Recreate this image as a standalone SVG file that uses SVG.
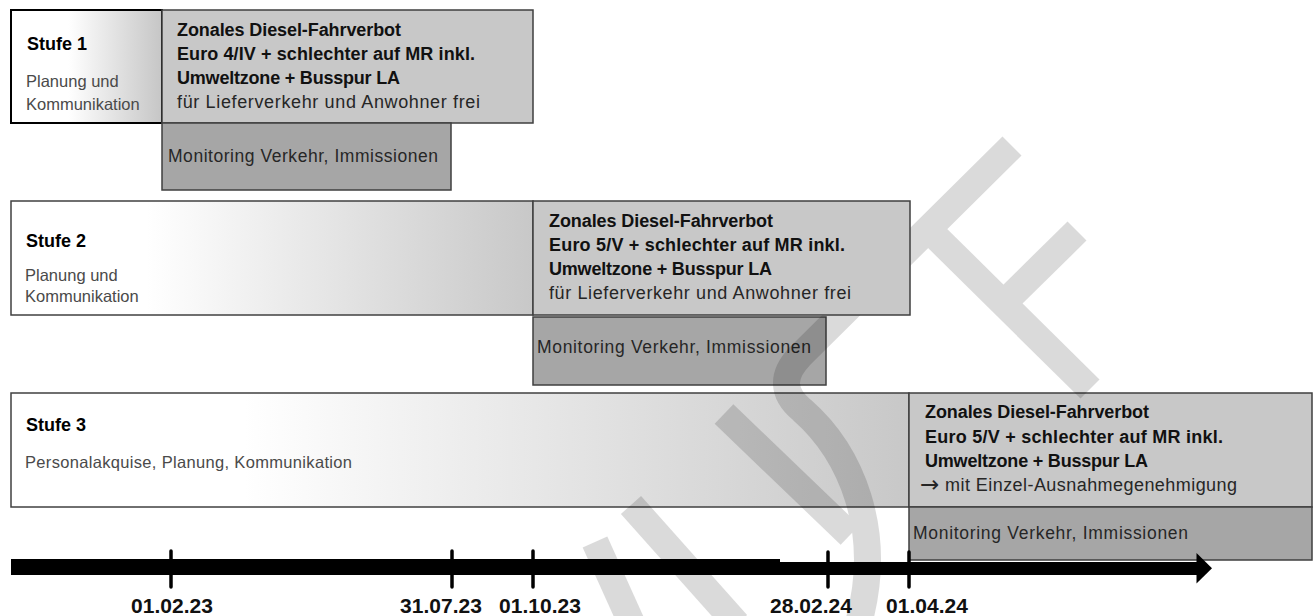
<svg xmlns="http://www.w3.org/2000/svg" width="1314" height="616" viewBox="0 0 1314 616">
  <defs>
    <linearGradient id="g1" x1="0" y1="0" x2="1" y2="0">
      <stop offset="0.38" stop-color="#ffffff"/>
      <stop offset="1" stop-color="#c6c6c6"/>
    </linearGradient>
    <linearGradient id="g2" x1="0" y1="0" x2="1" y2="0">
      <stop offset="0.26" stop-color="#ffffff"/>
      <stop offset="1" stop-color="#c8c8c8"/>
    </linearGradient>
    <linearGradient id="g3" x1="0" y1="0" x2="1" y2="0">
      <stop offset="0.26" stop-color="#ffffff"/>
      <stop offset="1" stop-color="#c8c8c8"/>
    </linearGradient>
  </defs>
  <style>
    text { font-family: "Liberation Sans", Arial, sans-serif; }
    .box { fill: #c8c8c8; stroke: #3f3f3f; stroke-width: 1.5; }
    .mon { fill: #a6a6a6; stroke: #3f3f3f; stroke-width: 1.5; }
    .plan { stroke: #404040; stroke-width: 1.5; }
    .b { font-weight: bold; font-size: 18px; fill: #111; }
    .r { font-size: 18px; fill: #262626; }
    .arr { font-family: "DejaVu Sans", sans-serif; font-size: 23px; fill: #262626; }
    .m { font-size: 17.5px; fill: #262626; }
    .lbl { font-weight: bold; font-size: 18px; fill: #000; }
    .sub { font-size: 16.5px; fill: #4a4a4a; }
    .date { font-weight: bold; font-size: 21px; fill: #111; text-anchor: middle; }
    .tick { stroke: #000; stroke-width: 3.5; stroke-linecap: round; }
    .wm { fill: none; stroke: #000; stroke-width: 27; stroke-linejoin: round; }
  </style>

  <g id="stufe1">
    <rect x="11" y="10" width="151" height="113" fill="url(#g1)" stroke="#000" stroke-width="2"/>
    <text class="lbl" x="27" y="50">Stufe 1</text>
    <text class="sub" x="26" y="87" fill="#5a5a5a">Planung und</text>
    <text class="sub" x="26" y="110" fill="#5a5a5a">Kommunikation</text>
  </g>
  <g id="verbot1">
    <rect class="box" x="162" y="10" width="371" height="113"/>
    <text class="b" x="177" y="36" textLength="224" lengthAdjust="spacing">Zonales Diesel-Fahrverbot</text>
    <text class="b" x="177" y="60" textLength="298" lengthAdjust="spacing">Euro 4/IV + schlechter auf MR inkl.</text>
    <text class="b" x="177" y="84" textLength="223" lengthAdjust="spacing">Umweltzone + Busspur LA</text>
    <text class="r" x="177" y="108" textLength="303" lengthAdjust="spacing">für Lieferverkehr und Anwohner frei</text>
  </g>
  <g id="monitoring1">
    <rect class="mon" x="162" y="123" width="289" height="67"/>
    <text class="m" x="168" y="162" textLength="270" lengthAdjust="spacing">Monitoring Verkehr, Immissionen</text>
  </g>

  <g id="stufe2">
    <rect class="plan" x="11" y="201" width="522" height="114" fill="url(#g2)"/>
    <text class="lbl" x="26" y="247">Stufe 2</text>
    <text class="sub" x="25" y="281" fill="#3a3a3a">Planung und</text>
    <text class="sub" x="25" y="302" fill="#3a3a3a">Kommunikation</text>
  </g>
  <g id="monitoring2">
    <rect class="mon" x="533" y="317" width="293" height="68"/>
    <text class="m" x="537" y="353" textLength="274" lengthAdjust="spacing">Monitoring Verkehr, Immissionen</text>
  </g>

  <g id="stufe3">
    <rect class="plan" x="11" y="393" width="898" height="114" fill="url(#g3)"/>
    <text class="lbl" x="26" y="431">Stufe 3</text>
    <text class="sub" x="25" y="468" fill="#4a4a4a" textLength="327" lengthAdjust="spacing">Personalakquise, Planung, Kommunikation</text>
  </g>
  <g id="verbot3">
    <rect class="box" x="909" y="393" width="403" height="114"/>
    <text class="b" x="925" y="418" textLength="224" lengthAdjust="spacing">Zonales Diesel-Fahrverbot</text>
    <text class="b" x="925" y="443" textLength="298" lengthAdjust="spacing">Euro 5/V + schlechter auf MR inkl.</text>
    <text class="b" x="925" y="467" textLength="223" lengthAdjust="spacing">Umweltzone + Busspur LA</text>
    <text class="arr" x="920" y="492">→</text>
    <text class="r" x="945" y="491" textLength="292" lengthAdjust="spacing">mit Einzel-Ausnahmegenehmigung</text>
  </g>
  <g id="monitoring3">
    <rect class="mon" x="909" y="507" width="403" height="53"/>
    <text class="m" x="913" y="539" textLength="275" lengthAdjust="spacing">Monitoring Verkehr, Immissionen</text>
  </g>

  <g id="timeline">
    <rect x="11" y="559" width="769" height="16" fill="#000"/>
    <rect x="763" y="562" width="435" height="13" fill="#000"/>
    <polygon points="1196.5,553 1212,568.3 1196.5,583.5" fill="#000"/>
    <line class="tick" x1="171" y1="551" x2="171" y2="587"/>
    <line class="tick" x1="452" y1="551" x2="452" y2="587"/>
    <line class="tick" x1="533" y1="551" x2="533" y2="587"/>
    <line class="tick" x1="828" y1="552" x2="828" y2="587"/>
    <line class="tick" x1="909" y1="552" x2="909" y2="587"/>
    <text class="date" x="172" y="613" textLength="82" lengthAdjust="spacing">01.02.23</text>
    <text class="date" x="441" y="613" textLength="82" lengthAdjust="spacing">31.07.23</text>
    <text class="date" x="540" y="613" textLength="82" lengthAdjust="spacing">01.10.23</text>
    <text class="date" x="811" y="613" textLength="82" lengthAdjust="spacing">28.02.24</text>
    <text class="date" x="927" y="613" textLength="82" lengthAdjust="spacing">01.04.24</text>
  </g>

  <g id="watermark" opacity="0.14">
    <path class="wm" d="M1012,146 L800,356 Q772,385 802,410 C850,452 885,530 858,625"/>
    <path class="wm" d="M724,414 L850,535"/>
    <path class="wm" d="M926,227 L1090,389"/>
    <path class="wm" d="M1010,297 L1077,231"/>
    <path class="wm" d="M631,505 L737,624" stroke-width="25"/>
    <path class="wm" d="M595,542 L632,624" stroke-width="24"/>
  </g>

  <g id="verbot2">
    <rect class="box" x="533" y="201" width="377" height="114"/>
    <text class="b" x="549" y="227" textLength="224" lengthAdjust="spacing">Zonales Diesel-Fahrverbot</text>
    <text class="b" x="549" y="251" textLength="296" lengthAdjust="spacing">Euro 5/V + schlechter auf MR inkl.</text>
    <text class="b" x="549" y="275" textLength="223" lengthAdjust="spacing">Umweltzone + Busspur LA</text>
    <text class="r" x="549" y="299" textLength="302" lengthAdjust="spacing">für Lieferverkehr und Anwohner frei</text>
  </g>
</svg>
